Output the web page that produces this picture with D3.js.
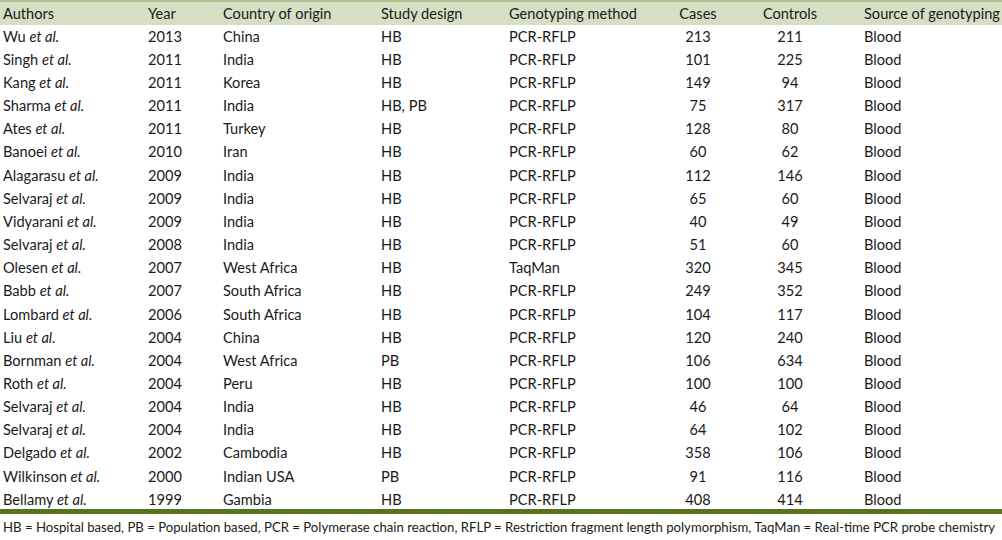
<!DOCTYPE html>
<html><head><meta charset="utf-8">
<script src="https://cdn.jsdelivr.net/npm/d3@7"></script>
<style>
html,body{margin:0;padding:0;background:#fff;}
svg{display:block;font-family:Lato,"Open Sans",sans-serif;}
</style></head><body>
<svg id="c" width="1002" height="540"></svg>
<script>
const headers = ["Authors","Year","Country of origin","Study design","Genotyping method","Cases","Controls","Source of genotyping"];
const authors = ["Wu","Singh","Kang","Sharma","Ates","Banoei","Alagarasu","Selvaraj","Vidyarani","Selvaraj","Olesen","Babb","Lombard","Liu","Bornman","Roth","Selvaraj","Selvaraj","Delgado","Wilkinson","Bellamy"];
const years = [2013,2011,2011,2011,2011,2010,2009,2009,2009,2008,2007,2007,2006,2004,2004,2004,2004,2004,2002,2000,1999];
const countries = ["China","India","Korea","India","Turkey","Iran","India","India","India","India","West Africa","South Africa","South Africa","China","West Africa","Peru","India","India","Cambodia","Indian USA","Gambia"];
const designs = ["HB","HB","HB","HB, PB","HB","HB","HB","HB","HB","HB","HB","HB","HB","HB","PB","HB","HB","HB","HB","PB","HB"];
const methods = ["PCR-RFLP","PCR-RFLP","PCR-RFLP","PCR-RFLP","PCR-RFLP","PCR-RFLP","PCR-RFLP","PCR-RFLP","PCR-RFLP","PCR-RFLP","TaqMan","PCR-RFLP","PCR-RFLP","PCR-RFLP","PCR-RFLP","PCR-RFLP","PCR-RFLP","PCR-RFLP","PCR-RFLP","PCR-RFLP","PCR-RFLP"];
const cases = [213,101,149,75,128,60,112,65,40,51,320,249,104,120,106,100,46,64,358,91,408];
const controls = [211,225,94,317,80,62,146,60,49,60,345,352,117,240,634,100,64,102,106,116,414];
const sources = authors.map(() => "Blood");
const footnote = "HB = Hospital based, PB = Population based, PCR = Polymerase chain reaction, RFLP = Restriction fragment length polymorphism, TaqMan = Real-time PCR probe chemistry";

const svg = d3.select("#c");
const W = 1002;
const colX = [3,148,223,381,509,698,790,864];
const colAnchor = ["start","start","start","start","start","middle","middle","start"];
const y = d3.scaleLinear().domain([0, 20]).range([41.7, 504.7]);

svg.append("rect").attr("x",0).attr("y",0).attr("width",W).attr("height",25).attr("fill","#d6dfc3");
svg.append("rect").attr("x",0).attr("y",0).attr("width",W).attr("height",2).attr("fill","#aebd8e");

const tc = "#1a1a1a";
svg.append("g").selectAll("text").data(headers).join("text")
  .attr("x",(d,i)=>colX[i]).attr("y",19.3).attr("text-anchor",(d,i)=>colAnchor[i])
  .attr("font-size",14.6).attr("fill",tc).text(d=>d);

const rows = authors.map((a,i)=>({a, cells:[null, years[i], countries[i], designs[i], methods[i], cases[i], controls[i], sources[i]]}));
const g = svg.append("g");
rows.forEach((r,i)=>{
  const t = g.append("text").attr("x",colX[0]).attr("y",y(i)).attr("font-size",14.6).attr("fill",tc);
  t.append("tspan").text(r.a + " ");
  t.append("tspan").attr("font-style","italic").text("et al.");
  r.cells.forEach((c,j)=>{
    if (j===0) return;
    g.append("text").attr("x",colX[j]).attr("y",y(i)).attr("text-anchor",colAnchor[j])
      .attr("font-size",14.6).attr("fill",tc).text(c);
  });
});

svg.append("rect").attr("x",0).attr("y",509).attr("width",W).attr("height",5).attr("fill","#56731f");
svg.append("text").attr("x",3).attr("y",532).attr("font-size",12.6).attr("fill",tc)
  .attr("textLength",992).attr("lengthAdjust","spacingAndGlyphs").text(footnote);
</script>
</body></html>
